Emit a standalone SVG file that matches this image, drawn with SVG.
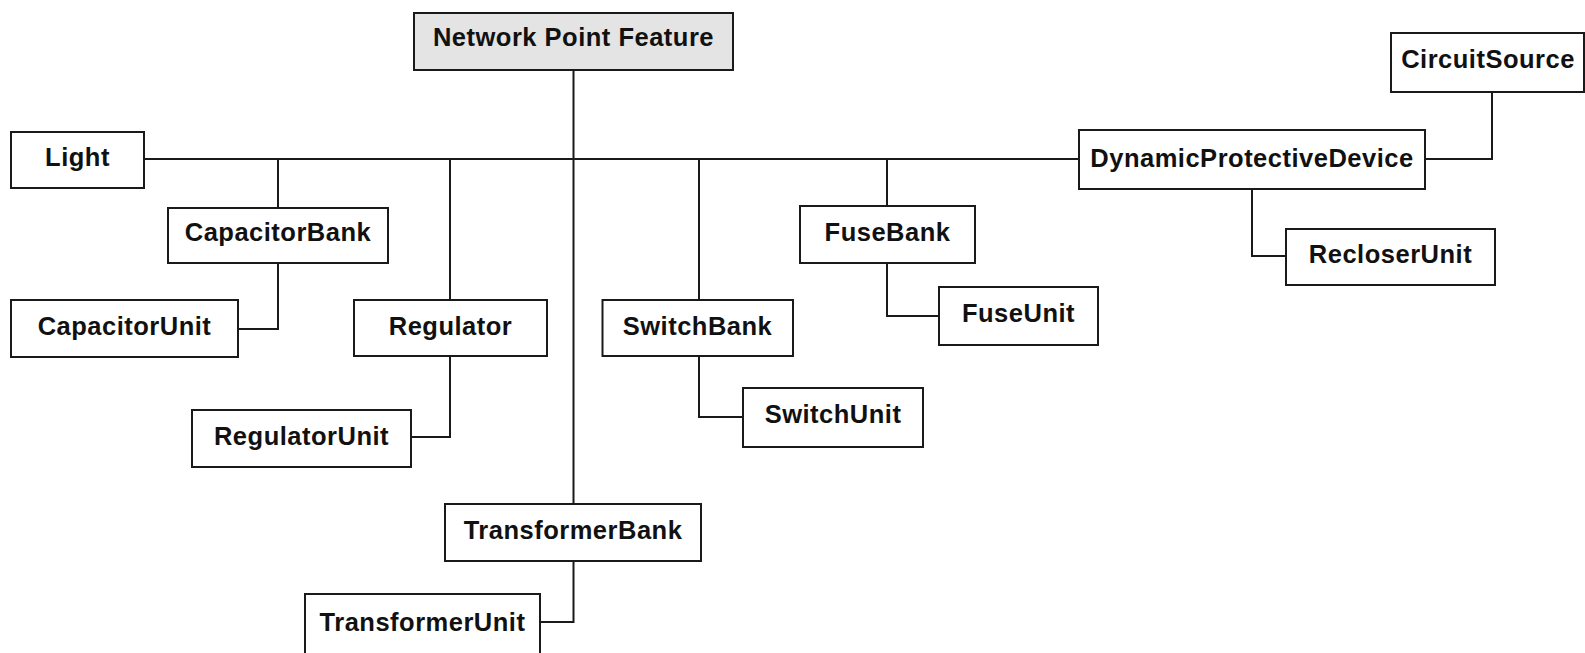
<svg xmlns="http://www.w3.org/2000/svg" width="1585" height="653" viewBox="0 0 1585 653">
<style>
.box{fill:#ffffff;stroke:#1a1a1a;stroke-width:2}
.root{fill:#e4e4e4;stroke:#1a1a1a;stroke-width:2}
.lbl{font-family:"Liberation Sans",Arial,sans-serif;font-weight:bold;font-size:25.5px;letter-spacing:0.5px;fill:#111;text-anchor:middle}
.conn{fill:none;stroke:#1a1a1a;stroke-width:2}
</style>
<rect width="1585" height="653" fill="#ffffff"/>
<g id="connectors">
<path class="conn" d="M144,159 H1079"/>
<path class="conn" d="M573.5,70 V504"/>
<path class="conn" d="M278,159 V208"/>
<path class="conn" d="M450,159 V300"/>
<path class="conn" d="M699,159 V300"/>
<path class="conn" d="M887,159 V206"/>
<path class="conn" d="M278,263 V329 H238"/>
<path class="conn" d="M450,356 V437 H411"/>
<path class="conn" d="M699,356 V417 H743"/>
<path class="conn" d="M887,263 V316 H939"/>
<path class="conn" d="M1252,189 V256 H1286"/>
<path class="conn" d="M1425,159 H1492 V92"/>
<path class="conn" d="M573.5,561 V622 H540"/>
</g>
<g id="node-npf"><rect class="root" x="414" y="13" width="319" height="57"/><text class="lbl" x="573.5" y="46">Network Point Feature</text></g>
<g id="node-light"><rect class="box" x="11" y="132" width="133" height="56"/><text class="lbl" x="77.5" y="166">Light</text></g>
<g id="node-capacitorbank"><rect class="box" x="168" y="208" width="220" height="55"/><text class="lbl" x="278" y="241">CapacitorBank</text></g>
<g id="node-capacitorunit"><rect class="box" x="11" y="300" width="227" height="57"/><text class="lbl" x="124.5" y="335">CapacitorUnit</text></g>
<g id="node-regulator"><rect class="box" x="354" y="300" width="193" height="56"/><text class="lbl" x="450.5" y="335">Regulator</text></g>
<g id="node-regulatorunit"><rect class="box" x="192" y="410" width="219" height="57"/><text class="lbl" x="301.5" y="445">RegulatorUnit</text></g>
<g id="node-switchbank"><rect class="box" x="602.5" y="300" width="190.5" height="56"/><text class="lbl" x="697.5" y="335">SwitchBank</text></g>
<g id="node-switchunit"><rect class="box" x="743" y="388" width="180" height="59"/><text class="lbl" x="833" y="423">SwitchUnit</text></g>
<g id="node-fusebank"><rect class="box" x="800" y="206" width="175" height="57"/><text class="lbl" x="887.5" y="241">FuseBank</text></g>
<g id="node-fuseunit"><rect class="box" x="939" y="287" width="159" height="58"/><text class="lbl" x="1018.5" y="322">FuseUnit</text></g>
<g id="node-dpd"><rect class="box" x="1079" y="130" width="346" height="59"/><text class="lbl" x="1252" y="167">DynamicProtectiveDevice</text></g>
<g id="node-circuitsource"><rect class="box" x="1391" y="33" width="193" height="59"/><text class="lbl" x="1488" y="68">CircuitSource</text></g>
<g id="node-recloserunit"><rect class="box" x="1286" y="229" width="209" height="56"/><text class="lbl" x="1390.5" y="263">RecloserUnit</text></g>
<g id="node-transformerbank"><rect class="box" x="445" y="504" width="256" height="57"/><text class="lbl" x="573" y="539">TransformerBank</text></g>
<g id="node-transformerunit"><rect class="box" x="305" y="594" width="235" height="70"/><text class="lbl" x="422.5" y="631">TransformerUnit</text></g>
</svg>
